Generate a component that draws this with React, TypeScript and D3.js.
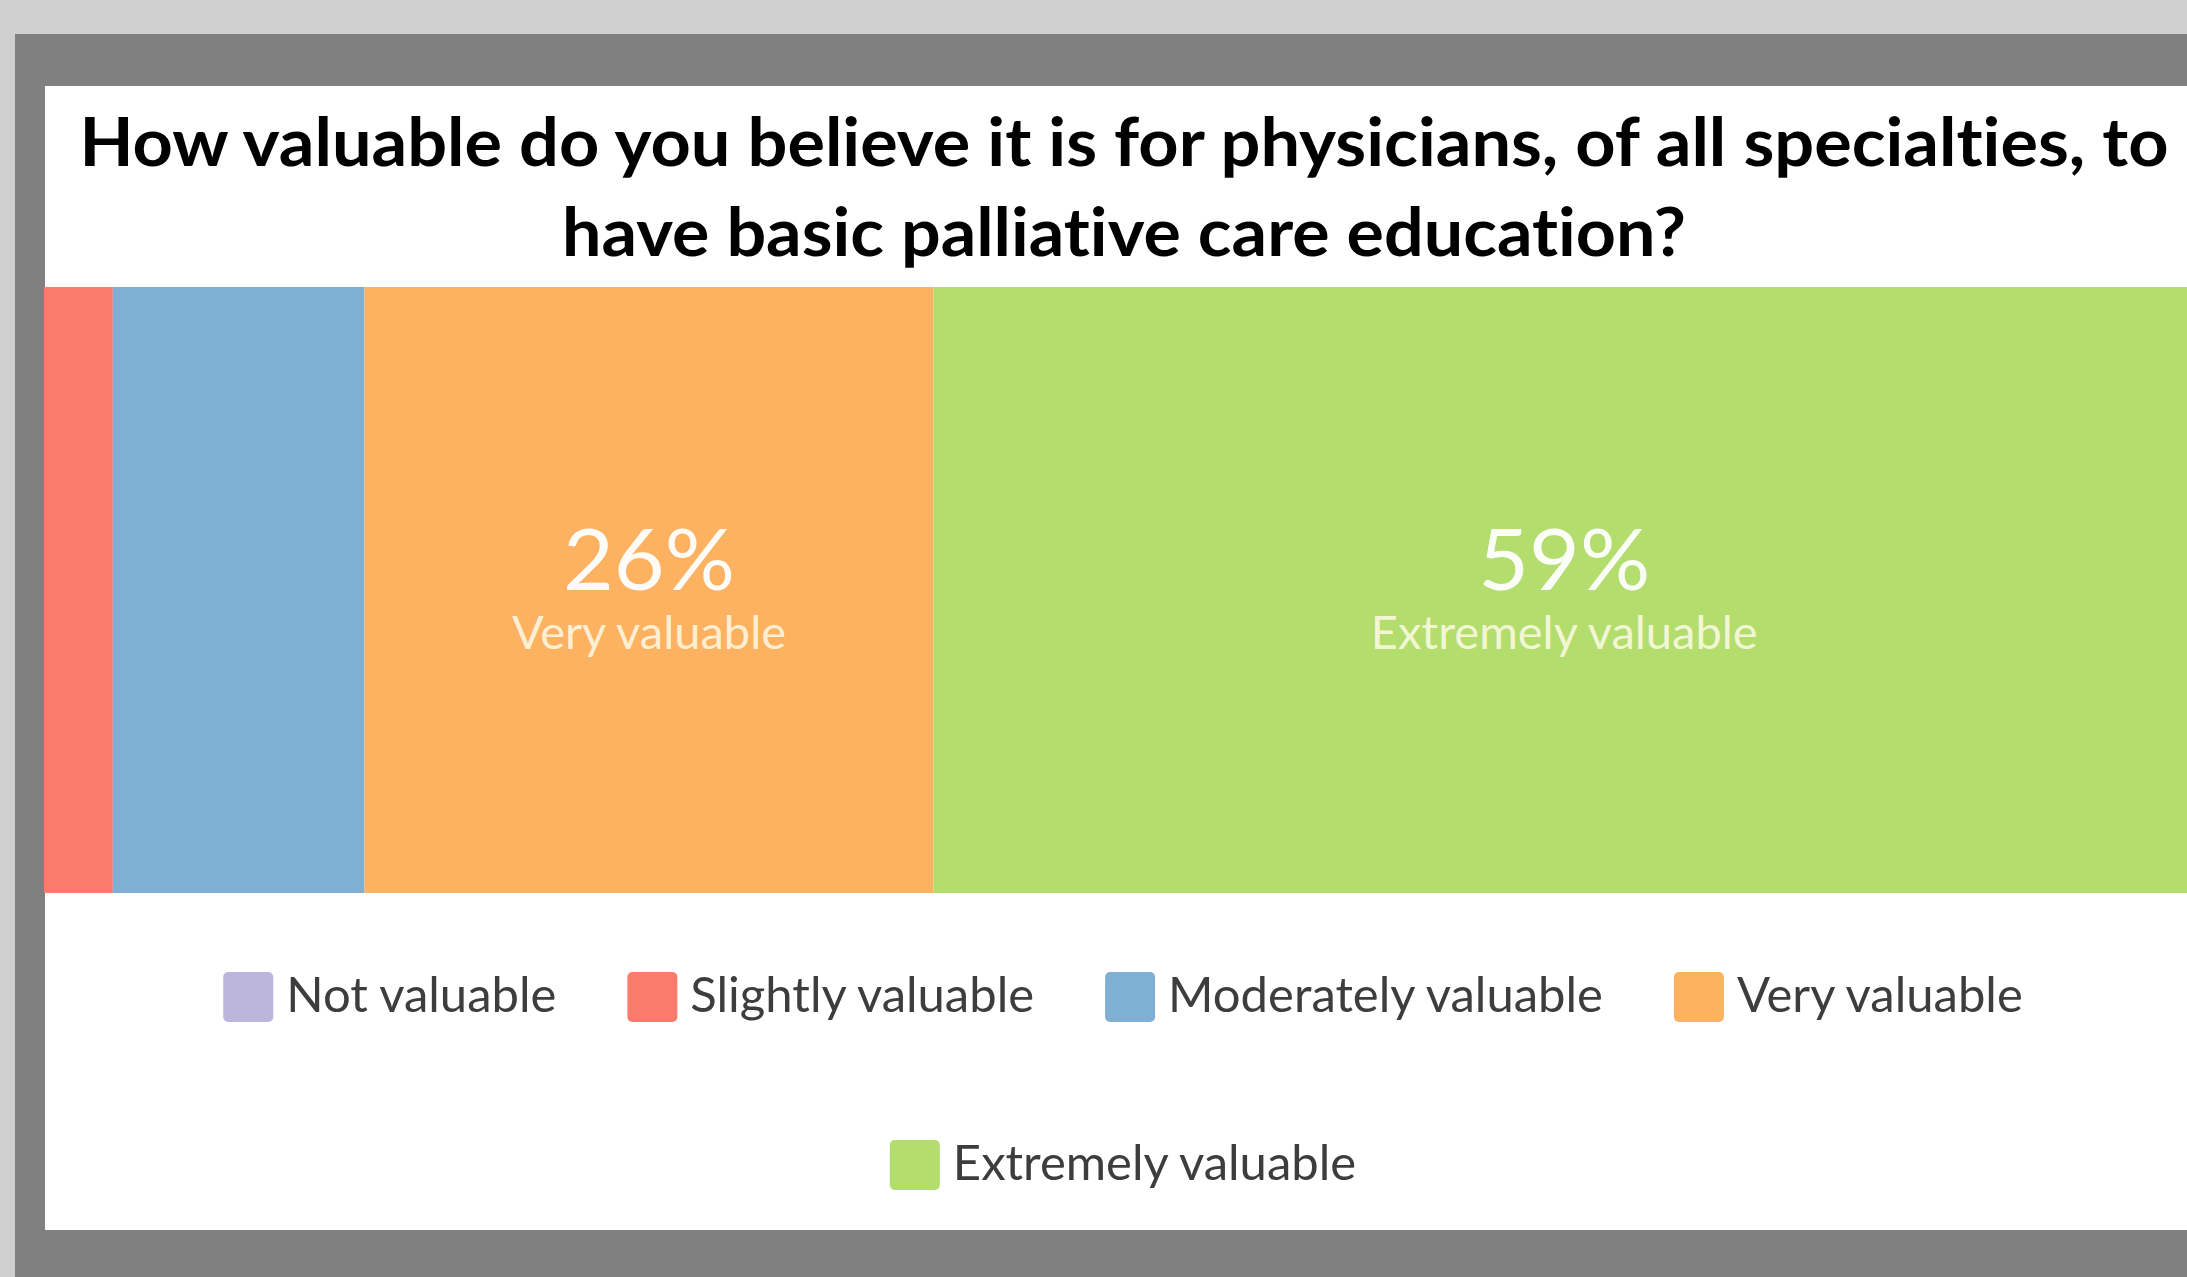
import React, { useEffect, useRef } from 'react';
import * as d3 from 'd3';

const categories = ['Not valuable', 'Slightly valuable', 'Moderately valuable', 'Very valuable', 'Extremely valuable'];
const percents = [0, 3.2, 11.7, 26.45, 58.65];
const colors = ['#bcb5dc', '#fa7b6c', '#7fafd2', '#fdb262', '#b3de6d'];
const labeledCategories = ['Very valuable', 'Extremely valuable'];
const titleLines = [
  'How valuable do you believe it is for physicians, of all specialties, to',
  'have basic palliative care education?',
];
const legendRows = [
  ['Not valuable', 'Slightly valuable', 'Moderately valuable', 'Very valuable'],
  ['Extremely valuable'],
];

const W = 2187;
const H = 1277;
const FONT = 'Lato, "Open Sans", sans-serif';

export default function App() {
  const ref = useRef<SVGSVGElement | null>(null);

  useEffect(() => {
    const svg = d3.select(ref.current);
    svg.selectAll('*').remove();
    svg.style('font-variant-ligatures', 'none');

    // frame
    svg.append('rect').attr('x', 0).attr('y', 0).attr('width', W).attr('height', H).attr('fill', '#d0cfd0');
    svg.append('rect').attr('x', 15).attr('y', 34).attr('width', W - 15).attr('height', H - 34).attr('fill', '#808080');
    svg.append('rect').attr('x', 45).attr('y', 86).attr('width', W - 45).attr('height', 1230 - 86).attr('fill', '#ffffff');

    // title
    const titleWidths = [2089, 1124];
    const titleBase = [166, 256];
    titleLines.forEach((t, i) => {
      svg.append('text')
        .attr('x', 1124)
        .attr('y', titleBase[i])
        .attr('text-anchor', 'middle')
        .attr('font-family', FONT)
        .attr('font-weight', 700)
        .attr('font-size', 66)
        .attr('fill', '#000')
        .attr('textLength', titleWidths[i])
        .attr('lengthAdjust', 'spacingAndGlyphs')
        .style('font-variant-ligatures', 'none')
        .text(t);
    });

    // bar
    const x = d3.scaleLinear().domain([0, 100]).range([44, 2195]);
    const color = d3.scaleOrdinal<string, string>().domain(categories).range(colors);
    const ends = Array.from(d3.cumsum(percents));
    const segs = categories.map((c, i) => ({ c, v: percents[i], x0: ends[i] - percents[i], x1: ends[i] }));
    const barTop = 287;
    const barBottom = 893;

    const g = svg.append('g');
    g.selectAll('rect.seg')
      .data(segs.filter(d => d.v > 0))
      .join('rect')
      .attr('class', 'seg')
      .attr('x', d => x(d.x0))
      .attr('y', barTop)
      .attr('width', d => x(d.x1) - x(d.x0))
      .attr('height', barBottom - barTop)
      .attr('fill', d => color(d.c));

    const lab = g.selectAll('g.lab')
      .data(segs.filter(d => labeledCategories.includes(d.c)))
      .join('g')
      .attr('class', 'lab')
      .attr('transform', d => `translate(${(x(d.x0) + x(d.x1)) / 2},0)`);
    lab.append('text')
      .attr('y', 590)
      .attr('text-anchor', 'middle')
      .attr('font-family', FONT)
      .attr('font-weight', 400)
      .attr('font-size', 85)
      .attr('fill', '#ffffff')
      .attr('fill-opacity', 0.95)
      .attr('textLength', 172)
      .attr('lengthAdjust', 'spacingAndGlyphs')
      .text(d => `${Math.round(d.v)}%`);
    lab.append('text')
      .attr('y', 649)
      .attr('text-anchor', 'middle')
      .attr('font-family', FONT)
      .attr('font-weight', 400)
      .attr('font-size', 47)
      .attr('fill', '#fffbe8')
      .attr('fill-opacity', 0.85)
      .style('font-variant-ligatures', 'none')
      .text(d => d.c);

    // legend
    const rowCenterY = [997, 1165];
    const sq = 50;
    const gapText = 13;
    const gapItem = 71;
    const cx = 1123;
    legendRows.forEach((row, ri) => {
      const items = row.map(name => {
        const gi = svg.append('g');
        gi.append('rect')
          .attr('width', sq).attr('height', sq).attr('rx', 5)
          .attr('y', -sq / 2)
          .attr('fill', color(name));
        const t = gi.append('text')
          .attr('x', sq + gapText)
          .attr('y', 15)
          .attr('font-family', FONT)
          .attr('font-size', 49)
          .attr('fill', '#3d3d3d')
          .style('font-variant-ligatures', 'none')
          .text(name);
        const tw = (t.node() as SVGTextElement).getComputedTextLength();
        return { gi, w: sq + gapText + tw };
      });
      const total = d3.sum(items, d => d.w) + gapItem * (items.length - 1);
      let cur = cx - total / 2;
      items.forEach(it => {
        it.gi.attr('transform', `translate(${cur},${rowCenterY[ri]})`);
        cur += it.w + gapItem;
      });
    });
  }, []);

  return (
    <svg
      ref={ref}
      width={W}
      height={H}
      style={{ position: 'absolute', left: 0, top: 0, display: 'block' }}
    />
  );
}
